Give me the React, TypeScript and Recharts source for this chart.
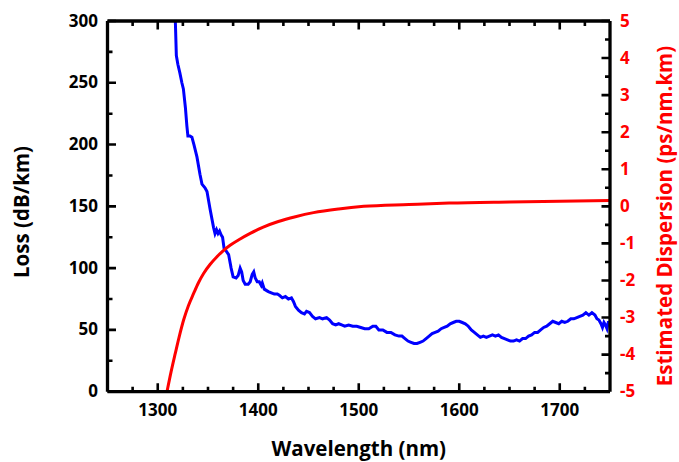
import React from "react";
import { ComposedChart, Line, XAxis, YAxis } from "recharts";

// Loss (dB/km)
const lossWavelength = [
  1317.5, 1318.5, 1320, 1322, 1324, 1325.5, 1327.5, 1329, 1330, 1332, 1334, 1336, 1339, 1342, 1344, 1347,
  1349, 1352, 1355.5, 1357, 1358.5, 1360, 1361.5, 1363, 1364.5, 1366, 1368, 1370.5, 1373, 1375, 1378, 1380,
  1382, 1383.5, 1385, 1387, 1390, 1392, 1394, 1395.5, 1397, 1399, 1401, 1403, 1404, 1406, 1408, 1410,
  1413, 1416, 1419, 1421, 1424, 1427, 1430, 1433, 1435, 1437, 1440, 1443, 1446, 1448, 1451, 1454,
  1457, 1461, 1464, 1468, 1471, 1474, 1477, 1480, 1483, 1486, 1490, 1494, 1498, 1502, 1506, 1510,
  1514, 1517, 1520, 1524, 1528, 1532, 1536, 1540, 1543, 1546, 1549, 1552, 1555, 1558, 1561, 1564,
  1567, 1570, 1573, 1576, 1579, 1582, 1585, 1588, 1591, 1594, 1597, 1600, 1603, 1606, 1609, 1612,
  1615, 1618, 1621, 1624, 1627, 1630, 1633, 1636, 1639, 1642, 1645, 1648, 1651, 1654, 1657, 1660,
  1663, 1666, 1669, 1672, 1675, 1678, 1681, 1684, 1687, 1690, 1693, 1696, 1699, 1702, 1705, 1708,
  1711, 1714, 1717, 1720, 1723, 1726, 1729, 1732, 1735, 1737, 1739, 1741, 1742.5, 1744, 1745.5, 1747,
  1748.5, 1749.5,
];
const lossValue = [
  300, 272, 265, 258, 250, 245, 230, 215, 207, 207, 206, 200, 190, 176, 168, 165,
  162, 148, 133, 128, 131, 128, 130, 127, 125, 116, 114, 111, 100, 93, 92, 94,
  100, 97, 90, 87, 87, 89, 95, 97, 92, 89, 89, 86, 88, 83, 82, 81,
  80, 79, 79, 78, 76, 77, 75, 76, 73, 69, 66, 64, 63, 65, 64, 61,
  59, 60, 59, 60, 58, 55, 54, 55, 54, 53, 54, 53, 53, 52, 51, 51,
  53, 53, 50, 50, 48, 48, 46, 45, 45, 43, 41, 40, 39, 39, 40, 41,
  43, 45, 47, 48, 49, 51, 52, 53, 55, 56, 57, 57, 56, 55, 53, 50,
  48, 46, 44, 45, 44, 45, 46, 45, 46, 44, 43, 42, 41, 41, 42, 41,
  43, 43, 45, 46, 48, 48, 50, 52, 53, 55, 57, 56, 55, 57, 56, 57,
  59, 59, 60, 61, 62, 64, 62, 64, 62, 59, 58, 55, 52, 56, 54, 51,
  57, 54,
];

// Estimated dispersion (ps/nm.km)
const dispWavelength = [
  1309.2, 1313.3, 1317.5, 1321.5, 1325.8, 1330.5, 1335.7, 1340.5, 1345.6, 1352, 1358.9, 1365, 1372,
  1382, 1392, 1405, 1420, 1437, 1455, 1480, 1505, 1550, 1590, 1650, 1700, 1750,
];
const dispValue = [
  -5, -4.46, -3.96, -3.5, -3.06, -2.68, -2.35, -2.06, -1.81, -1.57, -1.36, -1.2, -1.05,
  -0.88, -0.73, -0.56, -0.41, -0.28, -0.17, -0.07, 0, 0.05, 0.09, 0.12, 0.14, 0.16,
];

const xTicks = [1275, 1300, 1325, 1350, 1375, 1400, 1425, 1450, 1475, 1500, 1525, 1550, 1575, 1600, 1625, 1650, 1675, 1700, 1725];
const lossTicks = [0, 25, 50, 75, 100, 125, 150, 175, 200, 225, 250, 275, 300];
const dispTicks = [-5, -4.5, -4, -3.5, -3, -2.5, -2, -1.5, -1, -0.5, 0, 0.5, 1, 1.5, 2, 2.5, 3, 3.5, 4, 4.5, 5];

const X_DOMAIN = [1250, 1750];
const LOSS_DOMAIN = [0, 300];
const DISP_DOMAIN = [-5, 5];

const lossData = lossWavelength.map((w, i) => ({ w, loss: lossValue[i] }));
const dispData = dispWavelength.map((w, i) => ({ w, disp: dispValue[i] }));

const FONT = "'Open Sans', sans-serif";
const MAJOR_LEN = 8.5;
const MINOR_LEN = 5;
const TICK_W = 2.6;

// plot box (follows from the chart margins and axis sizes below)
const W = 679;
const H = 462;
const MARGIN = { top: 11, left: 47.5, right: 29, bottom: 30.3 };
const LEFT_W = 60;
const RIGHT_W = 40;
const BOTTOM_H = 40;
const TOP_H = 10;
const PLOT_L = MARGIN.left + LEFT_W;
const PLOT_R = W - MARGIN.right - RIGHT_W;
const PLOT_T = MARGIN.top + TOP_H;
const PLOT_B = H - MARGIN.bottom - BOTTOM_H;

const sx = (v: number) => PLOT_L + ((v - X_DOMAIN[0]) / (X_DOMAIN[1] - X_DOMAIN[0])) * (PLOT_R - PLOT_L);
const sLoss = (v: number) => PLOT_B - ((v - LOSS_DOMAIN[0]) / (LOSS_DOMAIN[1] - LOSS_DOMAIN[0])) * (PLOT_B - PLOT_T);
const sDisp = (v: number) => PLOT_B - ((v - DISP_DOMAIN[0]) / (DISP_DOMAIN[1] - DISP_DOMAIN[0])) * (PLOT_B - PLOT_T);

function BottomLabel(props: any) {
  const { x, y, payload } = props;
  if (payload.value % 100 !== 0) return <g />;
  return (
    <text x={x} y={y + 24} textAnchor="middle" fontFamily={FONT} fontWeight={700} fontSize={17} fill="#000">
      {payload.value}
    </text>
  );
}

function LeftLabel(props: any) {
  const { x, y, payload } = props;
  if (payload.value % 50 !== 0) return <g />;
  return (
    <text x={x - 9.5} y={y + 5.5} textAnchor="end" fontFamily={FONT} fontWeight={700} fontSize={17} fill="#000">
      {payload.value}
    </text>
  );
}

function RightLabel(props: any) {
  const { x, y, payload } = props;
  if (!Number.isInteger(payload.value)) return <g />;
  return (
    <text x={x + 10} y={y + 5.5} textAnchor="start" fontFamily={FONT} fontWeight={700} fontSize={17} fill="#ff0000">
      {payload.value}
    </text>
  );
}

// inward tick marks on all four sides of the frame
function TickMarks() {
  const paths: string[] = [];
  xTicks.forEach((t) => {
    const len = t % 100 === 0 ? MAJOR_LEN : MINOR_LEN;
    const x = sx(t);
    paths.push(`M${x},${PLOT_B}V${PLOT_B - len}`);
    paths.push(`M${x},${PLOT_T}V${PLOT_T + len}`);
  });
  lossTicks.forEach((t) => {
    const len = t % 50 === 0 ? MAJOR_LEN : MINOR_LEN;
    const y = sLoss(t);
    paths.push(`M${PLOT_L},${y}H${PLOT_L + len}`);
  });
  dispTicks.forEach((t) => {
    const len = Number.isInteger(t) ? MAJOR_LEN : MINOR_LEN;
    const y = sDisp(t);
    paths.push(`M${PLOT_R},${y}H${PLOT_R - len}`);
  });
  return (
    <svg width={W} height={H} style={{ position: "absolute", left: 0, top: 0, pointerEvents: "none" }}>
      <path d={paths.join("")} stroke="#000" strokeWidth={TICK_W} fill="none" />
    </svg>
  );
}

const axisLine = { stroke: "#000", strokeWidth: 3.3 };

const titleStyle: React.CSSProperties = {
  position: "absolute",
  fontFamily: FONT,
  fontWeight: 700,
  fontSize: 20.5,
  lineHeight: 1,
  whiteSpace: "nowrap",
};

export default function App() {
  return (
    <div style={{ position: "relative", width: W, height: H }}>
      <style>{"body{margin:0}"}</style>
      <ComposedChart width={W} height={H} margin={MARGIN}>
        <XAxis xAxisId="bottom" dataKey="w" type="number" domain={X_DOMAIN} allowDataOverflow
          ticks={xTicks} interval={0} tickSize={0} tickMargin={0} tickLine={false} height={BOTTOM_H}
          axisLine={axisLine} tick={(p: any) => <BottomLabel {...p} />} />
        <XAxis xAxisId="top" orientation="top" dataKey="w" type="number" domain={X_DOMAIN} allowDataOverflow
          ticks={xTicks} interval={0} tickSize={0} tickMargin={0} tickLine={false} height={TOP_H}
          axisLine={axisLine} tick={false} />
        <YAxis yAxisId="loss" type="number" domain={LOSS_DOMAIN} allowDataOverflow
          ticks={lossTicks} interval={0} tickSize={0} tickMargin={0} tickLine={false} width={LEFT_W}
          axisLine={axisLine} tick={(p: any) => <LeftLabel {...p} />} />
        <YAxis yAxisId="disp" orientation="right" type="number" domain={DISP_DOMAIN} allowDataOverflow
          ticks={dispTicks} interval={0} tickSize={0} tickMargin={0} tickLine={false} width={RIGHT_W}
          axisLine={axisLine} tick={(p: any) => <RightLabel {...p} />} />
        <Line data={lossData} xAxisId="bottom" yAxisId="loss" dataKey="loss" type="linear"
          stroke="#0000ff" strokeWidth={3} dot={false} isAnimationActive={false} />
        <Line data={dispData} xAxisId="top" yAxisId="disp" dataKey="disp" type="monotone"
          stroke="#ff0000" strokeWidth={3} dot={false} isAnimationActive={false} />
      </ComposedChart>
      <TickMarks />
      <div style={{ ...titleStyle, left: 358.75, top: 438.3, transform: "translateX(-50%)", color: "#000" }}>
        Wavelength (nm)
      </div>
      <div style={{ ...titleStyle, left: 21, top: 212, transform: "translate(-50%, -50%) rotate(-90deg)", color: "#000" }}>
        Loss (dB/km)
      </div>
      <div style={{ ...titleStyle, left: 664, top: 215.5, transform: "translate(-50%, -50%) rotate(-90deg)", color: "#ff0000" }}>
        Estimated Dispersion (ps/nm.km)
      </div>
    </div>
  );
}
